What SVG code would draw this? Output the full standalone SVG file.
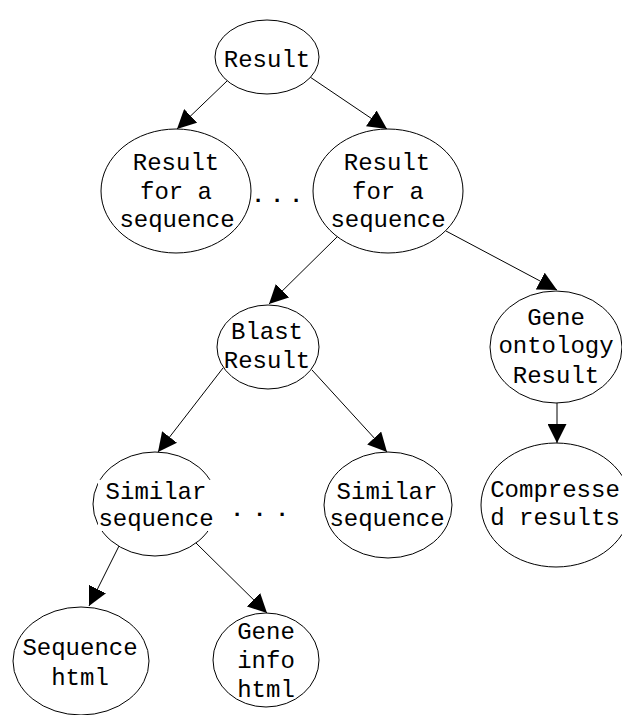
<svg xmlns="http://www.w3.org/2000/svg" width="622" height="715" viewBox="0 0 622 715">
<style>
.node ellipse{fill:#fff;stroke:#000;stroke-width:1}
.lbl{font-family:"Liberation Mono","DejaVu Sans Mono",monospace;font-size:24px;text-anchor:middle;fill:#000}
.dots{font-family:"Liberation Mono","DejaVu Sans Mono",monospace;font-size:22px;font-weight:bold;fill:#000}
.edge{stroke:#000;stroke-width:1;fill:none;marker-end:url(#ah)}
</style>
<defs>
<marker id="ah" markerWidth="19" markerHeight="19" refX="19" refY="9.5" orient="auto" markerUnits="userSpaceOnUse">
<path d="M0,0 L19,9.5 L0,19 z" fill="#000"/>
</marker>
</defs>
<rect width="622" height="715" fill="#fff"/>
<g id="connectors">
<line class="edge" x1="227" y1="81" x2="177" y2="129"/>
<line class="edge" x1="310" y1="77" x2="387" y2="129"/>
<line class="edge" x1="337" y1="237" x2="269" y2="304"/>
<line class="edge" x1="446" y1="231" x2="557" y2="290"/>
<line class="edge" x1="223" y1="368" x2="158" y2="452"/>
<line class="edge" x1="312" y1="370" x2="387" y2="452"/>
<line class="edge" x1="557" y1="403" x2="557" y2="443"/>
<line class="edge" x1="119" y1="546" x2="89" y2="606"/>
<line class="edge" x1="196" y1="543" x2="267" y2="613"/>
</g>
<g id="n-result" class="node">
<ellipse cx="267" cy="57" rx="52" ry="37"/>
<text class="lbl" x="267" y="67">Result</text>
</g>
<g id="n-rfs-left" class="node">
<ellipse cx="176" cy="191" rx="75" ry="62"/>
<text class="lbl" x="176" y="170">Result</text>
<text class="lbl" x="176" y="199">for a</text>
<text class="lbl" x="177" y="227">sequence</text>
</g>
<text class="dots" x="251.4" y="202" letter-spacing="5.8">...</text>
<g id="n-rfs-right" class="node">
<ellipse cx="388" cy="191" rx="75" ry="62"/>
<text class="lbl" x="387" y="170">Result</text>
<text class="lbl" x="388" y="199">for a</text>
<text class="lbl" x="388" y="227">sequence</text>
</g>
<g id="n-blast" class="node">
<ellipse cx="268" cy="347" rx="51" ry="42"/>
<text class="lbl" x="267" y="339">Blast</text>
<text class="lbl" x="267" y="368">Result</text>
</g>
<g id="n-go" class="node">
<ellipse cx="556" cy="347" rx="66" ry="56"/>
<text class="lbl" x="556" y="325">Gene</text>
<text class="lbl" x="556" y="353">ontology</text>
<text class="lbl" x="556" y="383">Result</text>
</g>
<g id="n-sim-left" class="node">
<ellipse cx="155" cy="504" rx="62" ry="52"/>
<rect x="98" y="480" width="121" height="51" fill="#fff"/>
<text class="lbl" x="156" y="499">Similar</text>
<text class="lbl" x="156" y="526">sequence</text>
</g>
<text class="dots" x="230.4" y="516" letter-spacing="9.3">...</text>
<g id="n-sim-right" class="node">
<ellipse cx="388" cy="505" rx="64" ry="53"/>
<text class="lbl" x="387" y="499">Similar</text>
<text class="lbl" x="387" y="526">sequence</text>
</g>
<g id="n-compressed" class="node">
<ellipse cx="556" cy="505" rx="75" ry="62"/>
<text class="lbl" x="555" y="497">Compresse</text>
<text class="lbl" x="555" y="525">d results</text>
</g>
<g id="n-seqhtml" class="node">
<ellipse cx="81" cy="661" rx="68" ry="54"/>
<text class="lbl" x="80" y="655">Sequence</text>
<text class="lbl" x="80" y="685">html</text>
</g>
<g id="n-geneinfo" class="node">
<ellipse cx="266" cy="660" rx="53" ry="47"/>
<text class="lbl" x="266" y="639">Gene</text>
<text class="lbl" x="266" y="668">info</text>
<text class="lbl" x="266" y="697">html</text>
</g>
</svg>
